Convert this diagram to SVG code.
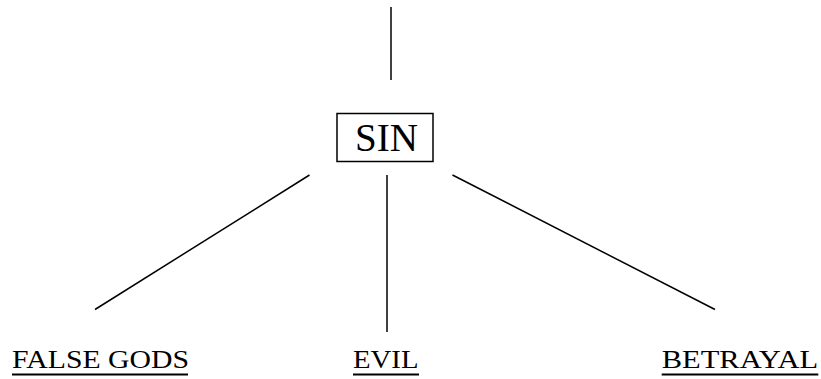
<svg xmlns="http://www.w3.org/2000/svg" width="821" height="379" viewBox="0 0 821 379">
<style>
.t{font-family:"Liberation Serif","Times New Roman",serif;fill:#000}
.lbl{font-size:24.5px}
.ln{stroke:#000;stroke-width:1.5;fill:none}
.ul{stroke:#000;stroke-width:2}
</style>
<rect width="821" height="379" fill="#fff"/>
<g id="connectors">
<line class="ln" x1="391" y1="7" x2="391" y2="80"/>
<line class="ln" x1="309.5" y1="175" x2="95" y2="309.5"/>
<line class="ln" x1="387" y1="175" x2="387" y2="332"/>
<line class="ln" x1="452.5" y1="175" x2="715" y2="309.5"/>
</g>
<g id="sin">
<rect x="337" y="113.5" width="96" height="48" fill="#fff" stroke="#000" stroke-width="1.5"/>
<text class="t" x="355" y="150.7" font-size="40" textLength="63" lengthAdjust="spacingAndGlyphs">SIN</text>
</g>
<g id="false-gods">
<text class="t lbl" x="12" y="368.3" textLength="177" lengthAdjust="spacingAndGlyphs">FALSE GODS</text>
<line class="ul" x1="12" y1="374.5" x2="188" y2="374.5"/>
</g>
<g id="evil">
<text class="t lbl" x="353" y="368.3" textLength="65.5" lengthAdjust="spacingAndGlyphs">EVIL</text>
<line class="ul" x1="353" y1="374.5" x2="419" y2="374.5"/>
</g>
<g id="betrayal">
<text class="t lbl" x="661.7" y="368.3" textLength="156.5" lengthAdjust="spacingAndGlyphs">BETRAYAL</text>
<line class="ul" x1="661.7" y1="374.5" x2="818.3" y2="374.5"/>
</g>
</svg>
